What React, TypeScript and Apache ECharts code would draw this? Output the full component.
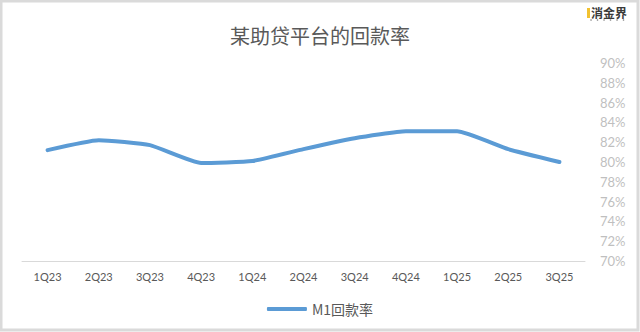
import React, { useEffect, useRef } from "react";
import * as echarts from "echarts";

const categories = ["1Q23", "2Q23", "3Q23", "4Q23", "1Q24", "2Q24", "3Q24", "4Q24", "1Q25", "2Q25", "3Q25"];
const m1Rate = [81.2, 82.2, 81.7, 79.9, 80.1, 81.3, 82.4, 83.1, 83.1, 81.3, 80.0];
const seriesName = "M1回款率";
const titleText = "某助贷平台的回款率";

export default function App() {
  const ref = useRef<HTMLDivElement>(null);
  useEffect(() => {
    document.body.style.margin = "0";
    const chart = echarts.init(ref.current!, undefined, { renderer: "svg" });
    const dots = [0, 1, 2, 3, 4, 5].map((i) => ({
      type: "circle",
      shape: { cx: 591 + i * 6.5, cy: 20, r: 0.8 },
      style: { fill: "#a0a0a0" },
      silent: true,
    }));
    chart.setOption({
      animation: false,
      backgroundColor: "#ffffff",
      title: {
        text: titleText,
        left: "center",
        top: 20,
        textStyle: {
          fontFamily: "Noto Sans CJK SC",
          fontSize: 20,
          fontWeight: "normal",
          color: "#595959",
        },
      },
      grid: { left: 22, right: 55, top: 63, bottom: 71 },
      legend: {
        data: [seriesName],
        left: "center",
        top: 297,
        icon: "roundRect",
        itemWidth: 40,
        itemHeight: 4,
        itemGap: 4,
        textStyle: {
          fontFamily: "Noto Sans CJK SC",
          fontSize: 14,
          color: "#595959",
        },
      },
      xAxis: {
        type: "category",
        data: categories,
        boundaryGap: true,
        axisLine: { lineStyle: { color: "#d9d9d9", width: 1 } },
        axisTick: { show: false },
        axisLabel: {
          color: "#595959",
          fontSize: 11,
          fontFamily: "Lato",
          margin: 10,
        },
      },
      yAxis: {
        type: "value",
        position: "right",
        min: 70,
        max: 90,
        interval: 2,
        splitLine: { show: false },
        axisLine: { show: false },
        axisTick: { show: false },
        axisLabel: {
          color: "#bfbfbf",
          fontSize: 13,
          fontFamily: "Lato",
          margin: 15,
          formatter: (v: number) => `${v}%`,
        },
      },
      series: [
        {
          name: seriesName,
          type: "line",
          data: m1Rate,
          symbol: "none",
          smooth: 0.15,
          lineStyle: { color: "#5B9BD5", width: 4, cap: "round" },
          itemStyle: { color: "#5B9BD5" },
        },
      ],
      graphic: [
        {
          type: "rect",
          shape: { x: 1, y: 1, width: 637, height: 329 },
          style: { fill: "none", stroke: "#dadada", lineWidth: 3 },
          silent: true,
        },
        {
          type: "rect",
          shape: { x: 587, y: 8, width: 3, height: 10 },
          style: { fill: "#F2C230" },
        },
        {
          type: "text",
          x: 591,
          y: 6,
          style: {
            text: "消金界",
            fontFamily: "Noto Sans CJK SC",
            fontSize: 12,
            fontWeight: "bold",
            fill: "#3a3a3a",
          },
        },
        ...dots,
      ],
    });
    return () => chart.dispose();
  }, []);
  return <div ref={ref} style={{ width: 640, height: 332 }} />;
}
